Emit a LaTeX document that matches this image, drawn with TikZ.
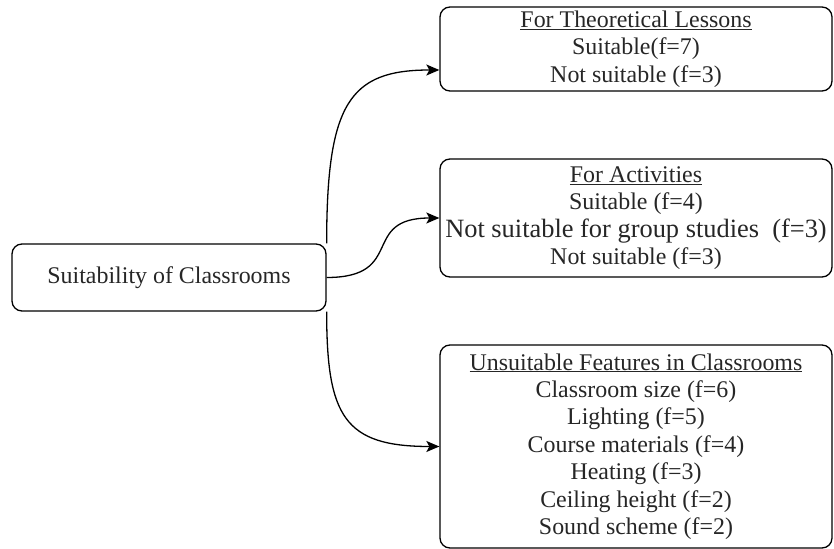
\documentclass[tikz,border=0pt]{standalone}
\usepackage{fontspec}
\setmainfont{Liberation Serif}
\usetikzlibrary{arrows.meta,calc}
\begin{document}
\begin{tikzpicture}[x=1bp,y=-1bp,
  box/.style={draw, line width=1.3bp, rounded corners=10bp, align=center, inner sep=0pt,
    font=\fontsize{24}{27.5}\selectfont, text=black!85},
  conn/.style={line width=1.3bp, -{Stealth[length=13bp,width=11bp,inset=3bp]}}]
\useasboundingbox (0,0) rectangle (834,549);
\node[box, minimum width=314bp, minimum height=67bp] (main) at (169,277.5) {Suitability of Classrooms};
\node[box, minimum width=392bp, minimum height=84bp] (top) at (636,49)
  {\underline{For Theoretical Lessons}\\ Suitable(f=7)\\ Not suitable (f=3)};
\node[box, minimum width=392bp, minimum height=118bp] (mid) at (636,218)
  {\underline{For Activities}\\ Suitable (f=4)\\ {\fontsize{26.5}{30}\selectfont Not suitable for group studies\ \ (f=3)}\\ Not suitable (f=3)};
\node[box, minimum width=392bp, minimum height=203bp] (bot) at (636,446.5)
  {\underline{Unsuitable Features in Classrooms}\\ Classroom size (f=6)\\ Lighting (f=5)\\ Course materials (f=4)\\ Heating (f=3)\\ Ceiling height (f=2)\\ Sound scheme (f=2)};
\draw[conn] (main.north east) .. controls ($(main.north east)+(0,-140)$) and ($(top.west)+(-90,21)$) .. ($(top.west)+(0,21)$);
\draw[conn] (main.east) .. controls ($(main.east)+(80,0)$) and ($(mid.west)+(-80,0)$) .. (mid.west);
\draw[conn] (main.south east) .. controls ($(main.south east)+(0,105)$) and ($(bot.west)+(-95,0)$) .. (bot.west);
\end{tikzpicture}
\end{document}
